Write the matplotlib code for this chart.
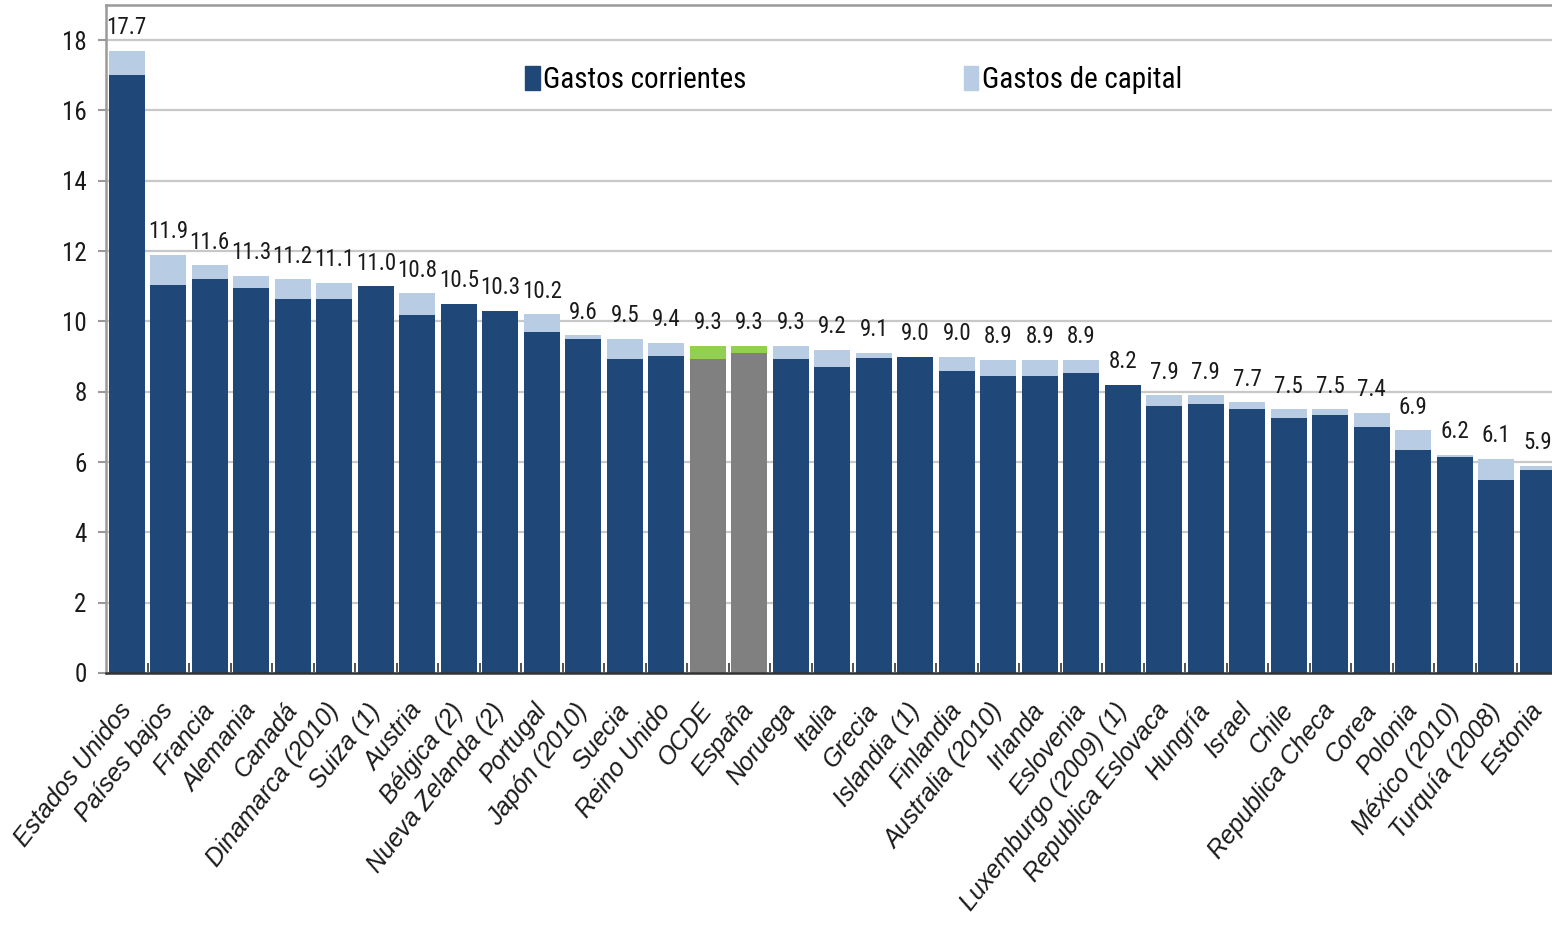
import numpy as np
import matplotlib
matplotlib.use("Agg")
import matplotlib.pyplot as plt
from matplotlib import font_manager as fm
from matplotlib.patches import Patch

# ── data ──────────────────────────────────────────────────────────────────────
paises = [
    "Estados Unidos", "Países bajos", "Francia", "Alemania", "Canadá",
    "Dinamarca (2010)", "Suiza (1)", "Austria", "Bélgica (2)",
    "Nueva Zelanda (2)", "Portugal", "Japón (2010)", "Suecia", "Reino Unido",
    "OCDE", "España", "Noruega", "Italia", "Grecia", "Islandia (1)",
    "Finlandia", "Australia (2010)", "Irlanda", "Eslovenia",
    "Luxemburgo (2009) (1)", "Republica Eslovaca", "Hungría", "Israel",
    "Chile", "Republica Checa", "Corea", "Polonia", "México (2010)",
    "Turquía (2008)", "Estonia",
]
# gasto total (etiqueta sobre cada barra)
total = [17.7, 11.9, 11.6, 11.3, 11.2, 11.1, 11.0, 10.8, 10.5, 10.3, 10.2,
         9.6, 9.5, 9.4, 9.3, 9.3, 9.3, 9.2, 9.1, 9.0, 9.0, 8.9, 8.9, 8.9,
         8.2, 7.9, 7.9, 7.7, 7.5, 7.5, 7.4, 6.9, 6.2, 6.1, 5.9]
# gastos corrientes
corrientes = [17.0, 11.05, 11.2, 10.95, 10.63, 10.63, 11.0, 10.17, 10.5, 10.3,
              9.69, 9.49, 8.92, 9.03, 8.94, 9.11, 8.92, 8.71, 8.97, 9.0,
              8.58, 8.46, 8.46, 8.54, 8.2, 7.59, 7.66, 7.51, 7.24, 7.33,
              7.0, 6.35, 6.13, 5.48, 5.78]
destacados = ["OCDE", "España"]

AZUL = "#1f4879"
AZUL_CLARO = "#b8cce4"
GRIS = "#808080"
VERDE = "#92d050"


def fuente_estrecha():
    # first condensed face that is actually installed
    for fam in ["Liberation Sans Narrow", "Arial Narrow", "Roboto Condensed",
                "DejaVu Sans Condensed", "Open Sans Condensed"]:
        try:
            fm.findfont(fm.FontProperties(family=fam), fallback_to_default=False)
            return dict(family=fam), True
        except ValueError:
            pass
    ruta = fm.findfont(fm.FontProperties(family="DejaVu Sans", stretch="condensed"))
    if "Condensed" in ruta:
        return dict(family="DejaVu Sans", stretch="condensed"), True
    return dict(family="Liberation Sans"), False


narrow, es_estrecha = fuente_estrecha()
regular = ["Liberation Sans", "DejaVu Sans"]
k = 1.0 if es_estrecha else 0.88

corrientes = np.array(corrientes)
total = np.array(total)
capital = total - corrientes
x = np.arange(len(paises))

col_base = [GRIS if p in destacados else AZUL for p in paises]
col_top = [VERDE if p in destacados else AZUL_CLARO for p in paises]

fig = plt.figure(figsize=(15.52, 9.25), dpi=100)
ax = fig.add_axes([106 / 1552, 252 / 925, 1452.5 / 1552, 668 / 925])

ax.bar(x, corrientes, width=0.87, color=col_base, zorder=2)
ax.bar(x, capital, bottom=corrientes, width=0.87, color=col_top, zorder=2)

for i, t in enumerate(total):
    ax.annotate(f"{t:.1f}", (i, t), xytext=(0, 12), textcoords="offset points",
                ha="center", va="baseline", fontsize=16.5 * k, color="#1a1a1a",
                **narrow)

ax.set_xlim(-0.5, len(paises) - 0.5)
ax.set_ylim(0, 19)
ax.set_yticks(np.arange(0, 19, 2))
ax.grid(axis="y", color="#c8c8c8", linewidth=1.6)
ax.set_axisbelow(True)

ax.set_xticks(x)
ax.set_xticklabels(paises, rotation=52, ha="right", va="center",
                   rotation_mode="anchor", fontsize=18, family=regular,
                   style="italic", color="#1a1a1a")
ax.set_xticks(x[:-1] + 0.5, minor=True)
ax.tick_params(axis="x", which="major", length=0, pad=24)
ax.tick_params(axis="x", which="minor", direction="in", length=7,
               width=1.2, color="#333333")
ax.tick_params(axis="y", length=6, width=1.5, color="#999999", pad=8)
for lab in ax.get_yticklabels():
    lab.set_fontproperties(fm.FontProperties(size=18 * k, **narrow))
    lab.set_color("#1a1a1a")

for s in ("left", "top", "right"):
    ax.spines[s].set_color("#9a9a9a")
    ax.spines[s].set_linewidth(1.8)
ax.spines["bottom"].set_color("#333333")
ax.spines["bottom"].set_linewidth(1.8)

handles = [Patch(color=AZUL), Patch(color=AZUL_CLARO)]
ax.legend(handles, ["Gastos corrientes", "Gastos de capital"],
          loc="center left", bbox_to_anchor=(525 / 1552, 1 - 80 / 925),
          bbox_transform=fig.transFigure, ncol=2, frameon=False,
          borderpad=0, borderaxespad=0, handlelength=0.5, handleheight=0.85,
          handletextpad=0.12, columnspacing=7.45 / k,
          prop=fm.FontProperties(size=21 * k, **narrow))

fig.savefig("out.png", dpi=100)
